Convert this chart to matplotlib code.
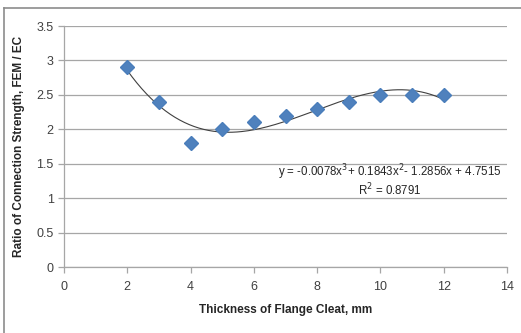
import numpy as np
import matplotlib
matplotlib.use("Agg")
import matplotlib.pyplot as plt
from matplotlib.lines import Line2D

thickness = [2, 3, 4, 5, 6, 7, 8, 9, 10, 11, 12]
ratio = [2.9, 2.4, 1.8, 2.0, 2.1, 2.2, 2.3, 2.4, 2.5, 2.5, 2.5]
x_ticks = [0, 2, 4, 6, 8, 10, 12, 14]
y_ticks = [0, 0.5, 1, 1.5, 2, 2.5, 3, 3.5]
equation_text = 'y = -0.0078x$^3$+ 0.1843x$^2$- 1.2856x + 4.7515'
r2_text = 'R$^2$ = 0.8791'

plt.rcParams['font.family'] = ['Liberation Sans', 'DejaVu Sans']

fig = plt.figure(figsize=(5.21, 3.33), dpi=100)
ax = fig.add_axes([64/521, 1-267/333, (507-64)/521, (267-26)/333])

# outer chart border (left and top visible)
fig.add_artist(Line2D([4/521, 4/521], [0, 1-8/333], transform=fig.transFigure, color='#8c8c8c', lw=1.2))
fig.add_artist(Line2D([4/521, 1], [1-8/333, 1-8/333], transform=fig.transFigure, color='#8c8c8c', lw=1.2))

ax.set_xlim(0, 14)
ax.set_ylim(0, 3.5)
ax.set_xticks(x_ticks)
ax.set_yticks(y_ticks)
ax.set_xticklabels([str(t) for t in x_ticks])
ax.set_yticklabels([('%g' % t) for t in y_ticks])
ax.grid(axis='y', color='#a6a6a6', lw=0.9)
ax.set_axisbelow(True)
for s in ['top', 'right']:
    ax.spines[s].set_visible(False)
for s in ['left', 'bottom']:
    ax.spines[s].set_color('#a6a6a6')
    ax.spines[s].set_linewidth(0.9)
ax.tick_params(axis='both', colors='#a6a6a6', labelcolor='#404040', labelsize=9, length=4, width=0.9)
ax.tick_params(axis='x', pad=6)

coeffs = np.polyfit(thickness, ratio, 3)
xs = np.linspace(min(thickness), max(thickness), 200)
ax.plot(xs, np.polyval(coeffs, xs), color='#404040', lw=0.8, zorder=2)
ax.plot(thickness, ratio, linestyle='none', marker='D', markersize=7.5,
        color='#4f81bd', markeredgecolor='#4a7ebb', zorder=3)

ax.text(10.3, 1.37, equation_text, ha='center', va='center', fontsize=8.3, color='#262626')
ax.text(10.3, 1.12, r2_text, ha='center', va='center', fontsize=8.3, color='#262626')

ax.set_xlabel('Thickness of Flange Cleat, mm', fontsize=8.5, fontweight='bold', color='#262626', labelpad=8)
ax.set_ylabel('Ratio of Connection Strength, FEM / EC', fontsize=8.5, fontweight='bold', color='#262626', labelpad=8)

fig.savefig('out.png', dpi=100)
